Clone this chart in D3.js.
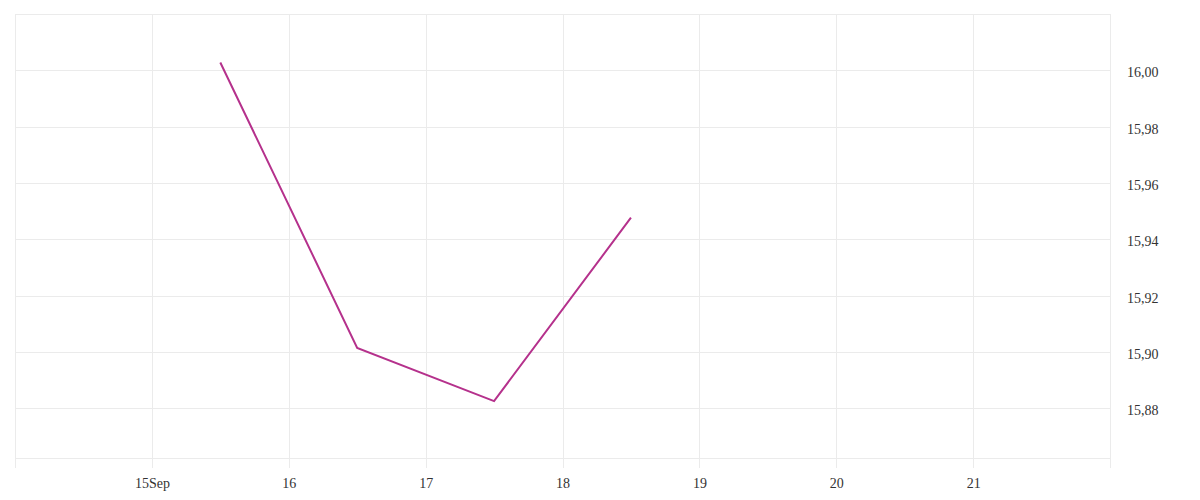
<!DOCTYPE html>
<html>
<head>
<meta charset="utf-8">
<script src="https://cdn.jsdelivr.net/npm/d3@7"></script>
<style>
  html, body { margin: 0; padding: 0; background: #ffffff; }
  svg { display: block; }
  text { font-family: "Liberation Serif", "Times New Roman", serif; font-size: 14px; fill: #333333; }
</style>
</head>
<body>
<svg id="chart" width="1200" height="500"></svg>
<script>
// ---- data ----
const dates = ["2023-09-15T12:00", "2023-09-16T12:00", "2023-09-17T12:00", "2023-09-18T12:00"];
const values = [16.0028, 15.9015, 15.8826, 15.9477];
const xTickDates = ["2023-09-15", "2023-09-16", "2023-09-17", "2023-09-18", "2023-09-19", "2023-09-20", "2023-09-21"];
const xTickLabels = ["15Sep", "16", "17", "18", "19", "20", "21"];
const yTickValues = [15.88, 15.90, 15.92, 15.94, 15.96, 15.98, 16.00];
const yTickLabels = ["15,88", "15,90", "15,92", "15,94", "15,96", "15,98", "16,00"];
const xDomain = ["2023-09-14", "2023-09-22"];
const yDomain = [15.8624, 16.02];

// ---- layout ----
const parse = d3.isoParse;
const margin = { left: 15, right: 90, top: 14, bottom: 42 };
const W = 1200, H = 500;
const svg = d3.select("#chart");

const x = d3.scaleTime()
  .domain(xDomain.map(parse))
  .range([margin.left, W - margin.right]);
const y = d3.scaleLinear()
  .domain(yDomain)
  .range([H - margin.bottom, margin.top]);

const gridColor = "#ebebeb";

// horizontal grid lines (ticks + top/bottom edges)
const hLines = yTickValues.concat(yDomain);
svg.append("g")
  .selectAll("line")
  .data(hLines)
  .join("line")
  .attr("x1", x.range()[0])
  .attr("x2", x.range()[1])
  .attr("y1", d => Math.round(y(d)) + 0.5)
  .attr("y2", d => Math.round(y(d)) + 0.5)
  .attr("stroke", gridColor)
  .attr("stroke-width", 1);

// vertical grid lines (ticks + left/right edges), extended below as ticks
const vLines = xTickDates.concat(xDomain).map(parse);
svg.append("g")
  .selectAll("line")
  .data(vLines)
  .join("line")
  .attr("x1", d => Math.round(x(d)) + 0.5)
  .attr("x2", d => Math.round(x(d)) + 0.5)
  .attr("y1", y.range()[1])
  .attr("y2", y.range()[0] + 10)
  .attr("stroke", gridColor)
  .attr("stroke-width", 1);

// x axis labels
const xAxis = d3.axisBottom(x)
  .tickValues(xTickDates.map(parse))
  .tickFormat((d, i) => xTickLabels[i])
  .tickSize(0)
  .tickPadding(0);
const gx = svg.append("g")
  .attr("transform", `translate(0,${y.range()[0]})`)
  .call(xAxis);
gx.select(".domain").remove();
gx.selectAll("text")
  .attr("y", 30)
  .attr("dy", 0)
  .style("font-family", "Liberation Serif, serif")
  .style("font-size", "14px")
  .attr("fill", "#333333");

// y axis labels (right)
const yAxis = d3.axisRight(y)
  .tickValues(yTickValues)
  .tickFormat((d, i) => yTickLabels[i])
  .tickSize(0)
  .tickPadding(0);
const gy = svg.append("g")
  .attr("transform", `translate(${x.range()[1] + 17},0)`)
  .call(yAxis);
gy.select(".domain").remove();
gy.selectAll("text")
  .attr("dy", "0.45em")
  .style("font-family", "Liberation Serif, serif")
  .style("font-size", "14px")
  .attr("fill", "#333333");

// line
const pts = dates.map((d, i) => ({ date: parse(d), value: values[i] }));
const line = d3.line()
  .x(d => x(d.date))
  .y(d => y(d.value));
svg.append("path")
  .datum(pts)
  .attr("d", line)
  .attr("fill", "none")
  .attr("stroke", "#b5318c")
  .attr("stroke-width", 2)
  .attr("stroke-linejoin", "miter");
</script>
</body>
</html>
